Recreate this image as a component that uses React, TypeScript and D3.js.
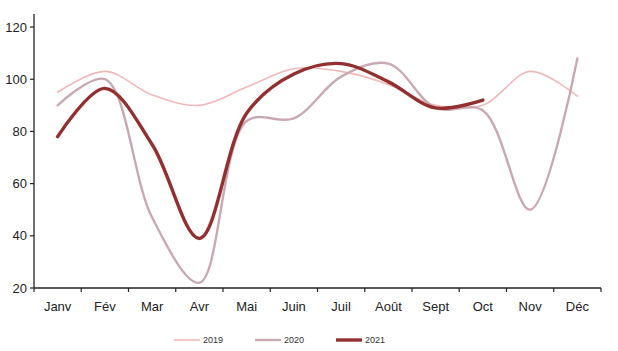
import React from "react";
import * as d3 from "d3";

const months = ["Janv", "Fév", "Mar", "Avr", "Mai", "Juin", "Juil", "Août", "Sept", "Oct", "Nov", "Déc"];
const s2019 = [95, 103, 94, 90, 97, 104, 103, 98, 90, 90, 103, 93.5];
const s2020 = [90, 100, 47, 22, 84, 85, 101, 106, 89, 88, 50, 108];
const s2021 = [78, 96.5, 75, 39, 87, 102, 106, 99, 89, 92];
const yTicks = [20, 40, 60, 80, 100, 120];

const series = [
  { name: "2019", values: s2019, color: "#f0b9b9", width: 1.6 },
  { name: "2020", values: s2020, color: "#c9a9b1", width: 2.4 },
  { name: "2021", values: s2021, color: "#932f2f", width: 3.4 },
];

export default function App() {
  const W = 618, H = 351;
  const left = 34, right = 601, top = 14, bottom = 288;
  const x = d3.scaleBand<string>().domain(months).range([left, right]);
  const y = d3.scaleLinear().domain([20, 125]).range([bottom, top]);
  const line = d3
    .line<number>()
    .x((_, i) => (x(months[i]) as number) + x.bandwidth() / 2)
    .y((d) => y(d))
    .curve(d3.curveCatmullRom.alpha(0.5));
  const font = "'Liberation Sans', Arial, sans-serif";
  const legendX = [174, 255, 336];
  const tickXs = months.map((m) => x(m) as number).concat([right]);
  return (
    <svg width={W} height={H} style={{ position: "absolute", left: 0, top: 0 }}>
      <rect width={W} height={H} fill="#fff" />
      {series.map((s) => (
        <path key={s.name} d={line(s.values) || ""} fill="none" stroke={s.color} strokeWidth={s.width} strokeLinecap="round" />
      ))}
      <line x1={left} x2={left} y1={top} y2={bottom} stroke="#222" strokeWidth={1.3} />
      <line x1={left} x2={right} y1={bottom} y2={bottom} stroke="#222" strokeWidth={1.3} />
      {yTicks.map((t) => (
        <g key={t}>
          <line x1={left - 4} x2={left} y1={y(t)} y2={y(t)} stroke="#222" strokeWidth={1.2} />
          <text x={left - 7} y={y(t)} dy="0.35em" textAnchor="end" fontFamily={font} fontSize={13} fill="#222">
            {t}
          </text>
        </g>
      ))}
      {tickXs.map((tx, i) => (
        <line key={i} x1={tx} x2={tx} y1={bottom} y2={bottom + 4} stroke="#222" strokeWidth={1.2} />
      ))}
      {months.map((m) => (
        <text key={m} x={(x(m) as number) + x.bandwidth() / 2} y={311} textAnchor="middle" fontFamily={font} fontSize={13} fill="#222">
          {m}
        </text>
      ))}
      {series.map((s, i) => (
        <g key={s.name}>
          <line x1={legendX[i]} x2={legendX[i] + 26} y1={340} y2={340} stroke={s.color} strokeWidth={s.width} />
          <text x={legendX[i] + 29} y={340} dy="0.35em" fontFamily={font} fontSize={9} fill="#333">
            {s.name}
          </text>
        </g>
      ))}
    </svg>
  );
}
